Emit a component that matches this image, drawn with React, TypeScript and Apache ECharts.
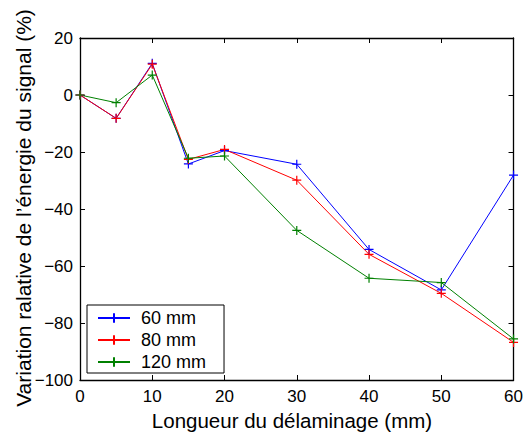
import React, { useEffect, useRef } from "react";
import * as echarts from "echarts";

const xValues = [0, 5, 10, 15, 20, 30, 40, 50, 60];
const seriesNames = ["60 mm", "80 mm", "120 mm"];
const s60 = [0, -8.2, 11.1, -24.2, -19.5, -24.3, -54.2, -68.4, -28.1];
const s80 = [0, -8.2, 10.8, -22.6, -19.1, -29.9, -55.9, -69.6, -86.8];
const s120 = [0, -2.7, 7.0, -22.2, -21.4, -47.5, -64.3, -65.8, -85.6];
const colors = ["#0000ff", "#ff0000", "#008000"];
const xTitle = "Longueur du délaminage (mm)";
const yTitle = "Variation ralative de l\u2019énergie du signal (%)";

const PLUS = "path://M0,5L10,5M5,0L5,10";
const FONT = "Liberation Sans, Arial, Helvetica, sans-serif";

export default function App() {
  const ref = useRef<HTMLDivElement>(null);
  useEffect(() => {
    if (!ref.current) return;
    const chart = echarts.init(ref.current, null, { renderer: "svg" });
    const fmt = (v: number) => String(v).replace("-", "\u2212");
    const allData = [s60, s80, s120];
    const tick = { show: true, inside: true, length: 5, lineStyle: { color: "#000", width: 1 } };
    const line = { show: true, onZero: false, lineStyle: { color: "#000", width: 1.3 } };
    const xBase = { type: "value", min: 0, max: 60, interval: 10, splitLine: { show: false }, axisLine: line, axisTick: tick };
    const yBase = { type: "value", min: -100, max: 20, interval: 20, splitLine: { show: false }, axisLine: line, axisTick: tick };
    chart.setOption({
      animation: false,
      backgroundColor: "#fff",
      grid: { left: 80, right: 10, top: 38, bottom: 54, containLabel: false },
      legend: {
        orient: "vertical",
        left: 87,
        top: 305,
        data: seriesNames,
        borderColor: "#000",
        borderWidth: 1,
        borderRadius: 0,
        backgroundColor: "#fff",
        padding: [2, 18, 0, 10],
        itemWidth: 32,
        itemHeight: 12,
        itemGap: 0,
        textStyle: { fontFamily: FONT, fontSize: 18, color: "#000", lineHeight: 22, padding: [0, 0, 0, 6] },
      },
      graphic: [
        {
          type: "text",
          x: 292,
          y: 420,
          style: { text: xTitle, fontFamily: FONT, fontSize: 20.5, fill: "#000", align: "center", verticalAlign: "middle" },
        },
        {
          type: "text",
          x: 23,
          y: 208,
          rotation: Math.PI / 2,
          style: { text: yTitle, fontFamily: FONT, fontSize: 21, fill: "#000", align: "center", verticalAlign: "middle" },
        },
      ],
      xAxis: [
        {
          ...xBase,
          position: "bottom",
          axisLabel: { fontFamily: FONT, fontSize: 17, color: "#000", margin: 8, formatter: fmt },
        },
        { ...xBase, position: "top", axisLabel: { show: false } },
      ],
      yAxis: [
        {
          ...yBase,
          position: "left",
          axisLabel: { fontFamily: FONT, fontSize: 17, color: "#000", margin: 7, formatter: fmt },
        },
        { ...yBase, position: "right", axisLabel: { show: false } },
      ],
      series: seriesNames.map((name, i) => ({
        name,
        type: "line",
        xAxisIndex: 0,
        yAxisIndex: 0,
        data: xValues.map((x, j) => [x, allData[i][j]]),
        symbol: PLUS,
        symbolSize: 9,
        showSymbol: true,
        lineStyle: { color: colors[i], width: 1 },
        itemStyle: { color: "none", borderColor: colors[i], borderWidth: 1.2 },
        emphasis: { disabled: true },
      })),
    });
    return () => chart.dispose();
  }, []);
  return <div ref={ref} style={{ position: "absolute", left: 0, top: 0, width: 526, height: 434 }} />;
}
